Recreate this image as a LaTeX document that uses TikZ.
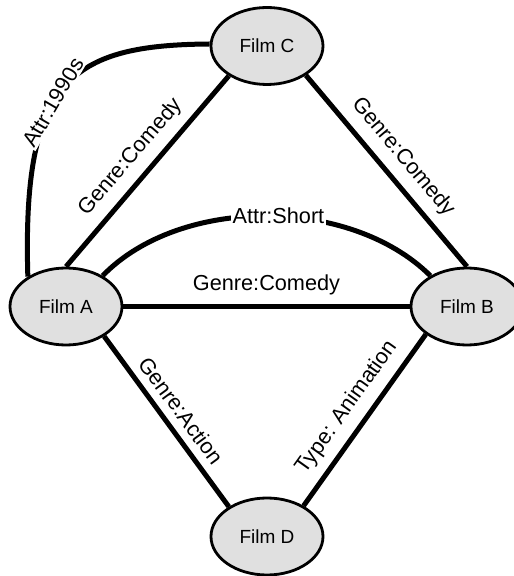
\documentclass[tikz,border=0pt]{standalone}
\usepackage{fontspec}
\setmainfont{Liberation Sans}
\usetikzlibrary{shapes.geometric}
\begin{document}
\begin{tikzpicture}[x=1pt,y=1pt,
  film/.style={ellipse,draw,line width=2.8pt,fill=black!12,minimum width=112pt,minimum height=77pt,inner sep=0pt,font=\fontsize{19}{19}\selectfont},
  rel/.style={line width=5pt},
  lab/.style={font=\fontsize{21.7}{22}\selectfont,inner sep=0pt,sloped},
  cut/.style={font=\fontsize{21.7}{22}\selectfont,fill=white,inner sep=1.5pt}]
\useasboundingbox (0,0) rectangle (514,576);
\node[film] (C) at (267,530) {Film C};
\node[film] (A) at (66,269.5) {Film A};
\node[film] (B) at (467,269.5) {Film B};
\node[film] (D) at (267,39.5) {Film D};
\draw[rel] (A.north) -- node[lab,above=9pt]{Genre:Comedy} (C.218);
\draw[rel] (C.-37) -- node[lab,above=9pt]{Genre:Comedy} (B.north);
\draw[rel] (A.east) -- node[lab,above=9pt]{Genre:Comedy} (B.west);
\draw[rel] (A.-38) -- node[lab,above=8pt]{Genre:Action} (D.142);
\draw[rel] (D.40) -- node[lab,above=9pt]{Type: Animation} (B.214);
\draw[rel] (A.40) .. controls (180,380) and (350,380) .. node[cut,pos=0.535]{Attr:Short} (B.140);
\draw[rel] (A.142) .. controls (22,496) and (70,531) .. node[cut,sloped,pos=0.43]{Attr:1990s} (C.178);
\end{tikzpicture}
\end{document}
